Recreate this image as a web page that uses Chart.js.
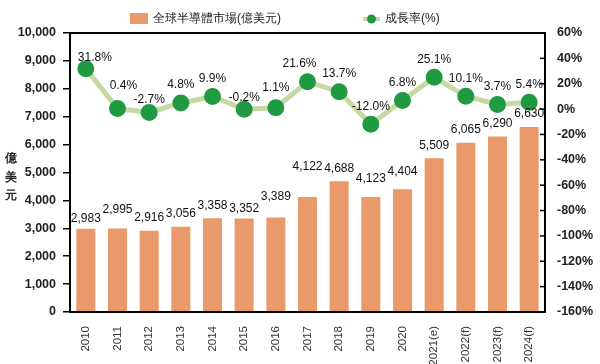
<!DOCTYPE html>
<html>
<head>
<meta charset="utf-8">
<script src="https://cdn.jsdelivr.net/npm/chart.js@4.4.0/dist/chart.umd.min.js"></script>
<style>
  html, body { margin: 0; padding: 0; background: #fff; }
  #wrap { width: 600px; height: 364px; }
</style>
</head>
<body>
<div id="wrap"><canvas id="chart" width="600" height="364"></canvas></div>
<script>
// データ
const years = ['2010', '2011', '2012', '2013', '2014', '2015', '2016', '2017', '2018', '2019', '2020', '2021(e)', '2022(f)', '2023(f)', '2024(f)'];
const marketValues = [2983, 2995, 2916, 3056, 3358, 3352, 3389, 4122, 4688, 4123, 4404, 5509, 6065, 6290, 6630];
const growthRates = [31.8, 0.4, -2.7, 4.8, 9.9, -0.2, 1.1, 21.6, 13.7, -12.0, 6.8, 25.1, 10.1, 3.7, 5.4];

const BAR_LABEL = '全球半導體市場(億美元)';
const LINE_LABEL = '成長率(%)';
const AXIS_TITLE = ['億', '美', '元'];

// 色
const BAR_COLOR = '#E9996A';
const LINE_COLOR = '#C6D9A2';
const POINT_COLOR = '#1F9A40';
const FONT = '"Liberation Sans", Arial, sans-serif';

// ラベル位置の微調整（Excel風の手動配置）
const barLabelNudge = { 0: -3, 1: 6, 5: -3, 6: 8, 7: 17, 9: 5, 10: 4 };
const rateLabelNudge = { 0: [9, 7], 1: [6, -5], 2: [0, 5], 5: [0, 6], 6: [0, -2], 7: [-8, 0] };

const labelPlugin = {
  id: 'labels',
  afterDatasetsDraw(chart) {
    const c = chart.ctx;
    const area = chart.chartArea;

    // 枠線
    c.save();
    c.strokeStyle = '#000';
    c.lineWidth = 2;
    c.strokeRect(area.left, area.top, area.right - area.left, area.bottom - area.top);

    // 右軸の内向き目盛り
    const yr = chart.scales.yr;
    c.lineWidth = 1.5;
    yr.ticks.forEach((t, i) => {
      const y = yr.getPixelForTick(i);
      c.beginPath();
      c.moveTo(area.right - 5, y);
      c.lineTo(area.right, y);
      c.stroke();
    });

    c.font = '12px ' + FONT;
    c.fillStyle = '#111';
    c.textAlign = 'center';
    c.textBaseline = 'middle';

    // 棒の値
    chart.getDatasetMeta(0).data.forEach((el, i) => {
      const off = 13 + (barLabelNudge[i] || 0);
      c.fillText(marketValues[i].toLocaleString('en-US'), el.x, el.y - off);
    });

    // 成長率
    chart.getDatasetMeta(1).data.forEach((el, i) => {
      const n = rateLabelNudge[i] || [0, 0];
      c.fillText(growthRates[i].toFixed(1) + '%', el.x + n[0], el.y - 18 + n[1]);
    });

    // 縦書きの軸タイトル
    c.font = 'bold 12px ' + FONT;
    c.fillStyle = '#222';
    AXIS_TITLE.forEach((ch, i) => c.fillText(ch, 11, 159 + i * 18.5));

    // 凡例
    c.font = '12px ' + FONT;
    c.textAlign = 'left';
    c.fillStyle = BAR_COLOR;
    c.fillRect(130, 13, 18, 11);
    c.fillStyle = '#222';
    c.fillText(BAR_LABEL, 153, 19);

    c.strokeStyle = LINE_COLOR;
    c.lineWidth = 4;
    c.beginPath();
    c.moveTo(363, 19);
    c.lineTo(380, 19);
    c.stroke();
    c.fillStyle = POINT_COLOR;
    c.beginPath();
    c.arc(371.5, 19, 4.5, 0, Math.PI * 2);
    c.fill();
    c.fillStyle = '#222';
    c.fillText(LINE_LABEL, 385, 19);
    c.restore();
  }
};

const ctx = document.getElementById('chart').getContext('2d');
new Chart(ctx, {
  data: {
    labels: years,
    datasets: [
      {
        type: 'bar',
        label: BAR_LABEL,
        data: marketValues,
        backgroundColor: BAR_COLOR,
        barPercentage: 0.6,
        categoryPercentage: 1,
        yAxisID: 'y',
        order: 2,
      },
      {
        type: 'line',
        label: LINE_LABEL,
        data: growthRates,
        borderColor: LINE_COLOR,
        borderWidth: 5,
        pointBackgroundColor: POINT_COLOR,
        pointBorderColor: POINT_COLOR,
        pointRadius: 6,
        tension: 0,
        yAxisID: 'yr',
        order: 1,
      },
    ],
  },
  options: {
    responsive: false,
    animation: false,
    layout: { padding: { top: 33, left: 0, right: 0, bottom: 0 } },
    plugins: {
      legend: { display: false },
      tooltip: { enabled: false },
    },
    scales: {
      x: {
        grid: { display: false },
        border: { display: false },
        ticks: {
          minRotation: 90,
          maxRotation: 90,
          padding: 6,
          autoSkip: false,
          color: '#333',
          font: { family: FONT, size: 11.5 },
        },
        afterFit(s) { s.height = 52; },
      },
      y: {
        position: 'left',
        min: 0,
        max: 10000,
        ticks: {
          stepSize: 1000,
          padding: 7,
          color: '#222',
          font: { family: FONT, size: 12.5, weight: 'bold' },
          callback: v => v.toLocaleString('en-US'),
        },
        grid: { drawOnChartArea: false, tickLength: 7, color: '#000', lineWidth: 1.5 },
        border: { display: false },
        afterFit(s) { s.width = 70; },
      },
      yr: {
        position: 'right',
        min: -160,
        max: 60,
        ticks: {
          stepSize: 20,
          padding: 12,
          color: '#222',
          font: { family: FONT, size: 12.5, weight: 'bold' },
          callback: v => v + '%',
        },
        grid: { drawOnChartArea: false, tickLength: 0 },
        border: { display: false },
        afterFit(s) { s.width = 55; },
      },
    },
  },
  plugins: [labelPlugin],
});
</script>
</body>
</html>
